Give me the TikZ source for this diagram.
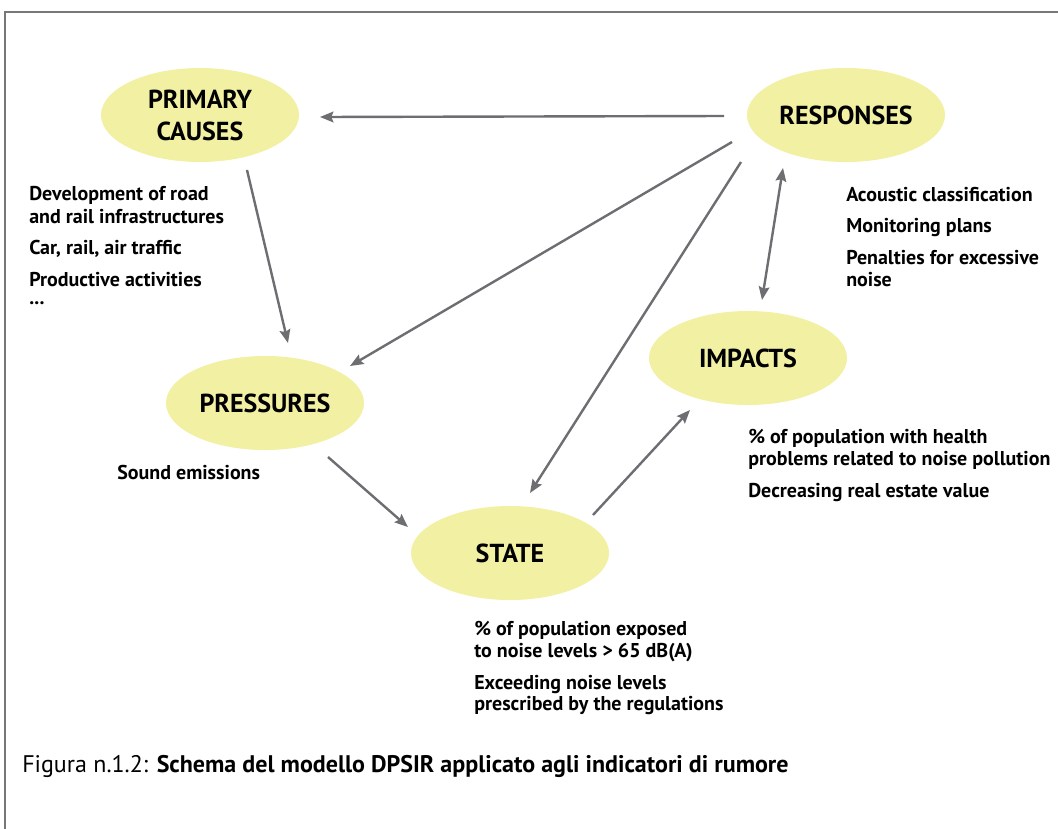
\documentclass[tikz,border=0pt]{standalone}
\usepackage{fontspec}
\setmainfont{PT Sans}
\usetikzlibrary{arrows.meta,shapes.geometric}
\definecolor{ellfill}{HTML}{F2F0A2}
\definecolor{arrgray}{HTML}{6E6E72}
\definecolor{framegray}{HTML}{777777}
\begin{document}
\begin{tikzpicture}[x=0.75pt,y=-0.75pt,
  stage/.style={ellipse, fill=ellfill, minimum width=148.5pt, minimum height=70.5pt, inner sep=0pt,
    align=center, font=\bfseries\fontsize{19.5}{24}\selectfont},
  txt/.style={anchor=base west, inner sep=0pt, font=\bfseries\fontsize{15}{17}\selectfont},
  arr/.style={draw=arrgray, line width=1.8pt, -{Stealth[length=10pt,width=8pt,inset=1.5pt]}},
  darr/.style={draw=arrgray, line width=1.8pt, {Stealth[length=10pt,width=8pt,inset=1.5pt]}-{Stealth[length=10pt,width=8pt,inset=1.5pt]}}]
\useasboundingbox (0,0) rectangle (1058,829);
\fill[white] (0,0) rectangle (1058,829);
\draw[framegray, line width=1.5pt] (5,835) -- (5,12) -- (1065,12);

\node[stage] (prim) at (200,115) {PRIMARY\\CAUSES};
\node[stage] (resp) at (846,115) {RESPONSES};
\node[stage] (pres) at (265,403) {PRESSURES};
\node[stage] (imp) at (748,358) {IMPACTS};
\node[stage] (state) at (510,553) {STATE};

% primary causes text
\node[txt] (p1) at (29,200) {Development of road};
\node[txt] (p2) at (29,223) {and rail infrastructures};
\node[txt] (p3) at (29,254) {Car, rail, air traffic};
\node[txt] (p4) at (29,286) {Productive activities};
\node[txt] (p5) at (29,304) {...};
% responses text
\node[txt] (r1) at (846,201) {Acoustic classification};
\node[txt] (r2) at (846,232) {Monitoring plans};
\node[txt] (r3) at (846,264) {Penalties for excessive};
\node[txt] (r4) at (846,286) {noise};
% pressures text
\node[txt] (s1) at (117,479) {Sound emissions};
% impacts text
\node[txt] (i1) at (748,443) {\% of population with health};
\node[txt] (i2) at (748,465) {problems related to noise pollution};
\node[txt] (i3) at (748,497) {Decreasing real estate value};
% state text
\node[txt] (t1) at (474,635) {\% of population exposed};
\node[txt] (t2) at (474,657) {to noise levels > 65 dB(A)};
\node[txt] (t3) at (474,689) {Exceeding noise levels};
\node[txt] (t4) at (474,710) {prescribed by the regulations};

% caption
\node[anchor=base west, inner sep=0pt, font=\fontsize{18}{21}\selectfont] (cap) at (22,772)
  {Figura n.1.2: \textbf{Schema del modello DPSIR applicato agli indicatori di rumore}};

% connector endpoints
\coordinate (a1s) at (724,116); \coordinate (a1e) at (320,117);
\coordinate (a2s) at (247,170); \coordinate (a2e) at (288,343);
\coordinate (a3s) at (732,142); \coordinate (a3e) at (350,366);
\coordinate (a4s) at (741,162); \coordinate (a4e) at (530,493);
\coordinate (a5s) at (783,168); \coordinate (a5e) at (762,300);
\coordinate (a6s) at (328,457); \coordinate (a6e) at (408,527);
\coordinate (a7s) at (593,515); \coordinate (a7e) at (690,410);

\draw[arr] (a1s) -- (a1e);
\draw[arr] (a2s) -- (a2e);
\draw[arr] (a3s) -- (a3e);
\draw[arr] (a4s) -- (a4e);
\draw[darr] (a5s) -- (a5e);
\draw[arr] (a6s) -- (a6e);
\draw[arr] (a7s) -- (a7e);
\end{tikzpicture}
\end{document}
